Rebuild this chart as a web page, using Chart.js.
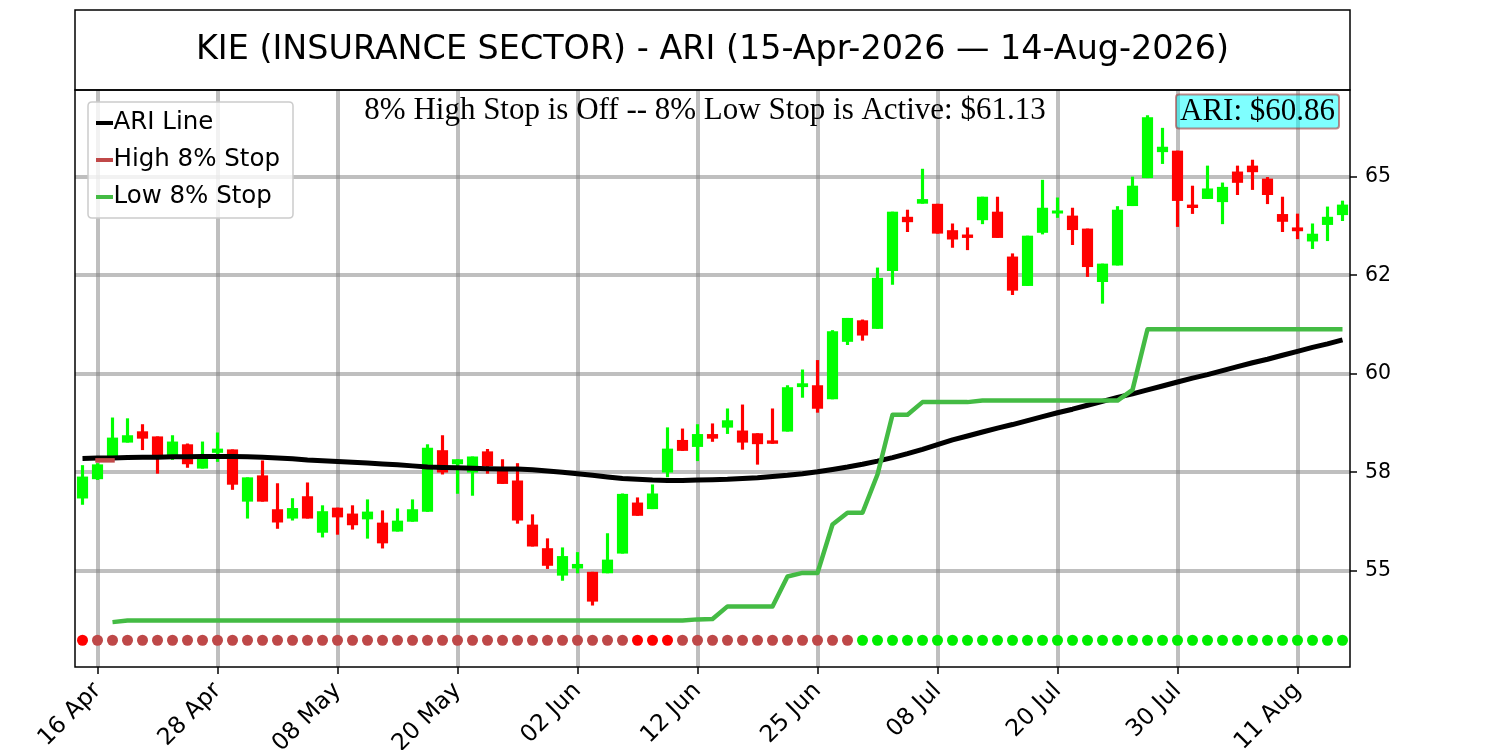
<!DOCTYPE html>
<html>
<head>
<meta charset="utf-8">
<title>KIE ARI</title>
<script src="https://cdn.jsdelivr.net/npm/chart.js@4.4.1/dist/chart.umd.min.js"></script>
<style>
  html, body { margin: 0; padding: 0; background: #fff; }
  #wrap { width: 1500px; height: 750px; position: relative; }
</style>
</head>
<body>
<div id="wrap"><canvas id="ariChart"></canvas></div>
<script>
// Trading days
const dates = [
    '15 Apr','16 Apr','17 Apr','20 Apr','21 Apr','22 Apr','23 Apr','24 Apr','27 Apr','28 Apr','29 Apr','30 Apr',
    '01 May','04 May','05 May','06 May','07 May','08 May','11 May','12 May','13 May','14 May','15 May','18 May',
    '19 May','20 May','21 May','22 May','26 May','27 May','28 May','29 May',
    '01 Jun','02 Jun','03 Jun','04 Jun','05 Jun','08 Jun','09 Jun','10 Jun','11 Jun','12 Jun','15 Jun','16 Jun',
    '17 Jun','18 Jun','22 Jun','23 Jun','24 Jun','25 Jun','26 Jun','29 Jun','30 Jun',
    '01 Jul','02 Jul','06 Jul','07 Jul','08 Jul','09 Jul','10 Jul','13 Jul','14 Jul','15 Jul','16 Jul','17 Jul',
    '20 Jul','21 Jul','22 Jul','23 Jul','24 Jul','27 Jul','28 Jul','29 Jul','30 Jul','31 Jul',
    '03 Aug','04 Aug','05 Aug','06 Aug','07 Aug','10 Aug','11 Aug','12 Aug','13 Aug','14 Aug'
];

// OHLC
const opens = [
    56.84, 57.33, 57.90, 58.26, 58.53, 58.40, 57.94, 58.20, 57.60, 58.00,
    58.07, 56.76, 57.41, 56.55, 56.33, 56.88, 55.97, 56.59, 56.44, 56.31,
    56.21, 56.00, 56.25, 56.50, 58.05, 57.71, 57.50, 58.02, 57.56, 57.28,
    56.16, 55.56, 54.88, 55.06, 54.96, 54.94, 55.44, 56.72, 56.57, 57.50,
    58.31, 58.15, 58.46, 58.64, 58.55, 58.48, 58.30, 58.54, 59.67, 59.70,
    59.36, 60.82, 61.35, 61.15, 62.62, 63.98, 64.33, 64.31, 63.64, 63.53,
    63.91, 64.11, 62.97, 62.24, 63.59, 64.08, 64.01, 63.68, 62.34, 62.76,
    64.27, 64.98, 65.64, 65.66, 64.29, 64.45, 64.37, 65.13, 65.28, 64.95,
    64.05, 63.71, 63.37, 63.79, 64.04
];
const highs = [
    57.67, 57.72, 58.88, 58.86, 58.71, 58.40, 58.43, 58.22, 58.27, 58.50,
    58.07, 57.36, 57.79, 57.21, 56.83, 57.23, 56.65, 56.59, 56.65, 56.80,
    56.52, 56.57, 56.80, 58.20, 58.43, 57.82, 57.89, 58.08, 57.82, 57.72,
    56.42, 55.81, 55.58, 55.46, 54.96, 55.94, 56.95, 56.85, 57.18, 58.63,
    58.60, 58.71, 58.73, 59.11, 59.21, 58.48, 59.11, 59.70, 60.10, 60.34,
    61.10, 61.41, 61.37, 62.69, 64.11, 64.16, 65.20, 64.31, 63.81, 63.71,
    64.49, 64.49, 63.05, 63.50, 64.92, 64.47, 64.21, 63.68, 62.79, 64.25,
    65.00, 66.56, 66.24, 65.66, 64.77, 65.28, 64.85, 65.28, 65.43, 64.99,
    64.49, 64.06, 63.81, 64.24, 64.39
];
const lows = [
    56.68, 57.31, 57.90, 58.26, 58.07, 57.47, 57.82, 57.62, 57.60, 57.77,
    57.06, 56.33, 56.76, 56.07, 56.28, 56.33, 55.85, 55.92, 56.05, 55.82,
    55.57, 56.00, 56.25, 56.50, 57.45, 56.96, 56.91, 57.47, 57.21, 56.20,
    55.62, 55.05, 54.75, 54.94, 54.12, 54.94, 55.44, 56.40, 56.57, 57.38,
    58.05, 57.79, 58.28, 58.48, 58.08, 57.70, 58.23, 58.54, 59.40, 59.02,
    59.36, 60.74, 60.85, 61.15, 62.27, 63.61, 64.33, 63.57, 63.21, 63.15,
    63.81, 63.46, 62.01, 62.24, 63.55, 63.97, 63.28, 62.47, 61.79, 62.76,
    64.27, 64.98, 65.34, 63.74, 64.07, 64.45, 63.81, 64.55, 64.68, 64.32,
    63.61, 63.43, 63.18, 63.38, 63.89
];
const closes = [
    57.38, 57.69, 58.37, 58.43, 58.36, 57.94, 58.27, 57.71, 57.89, 58.09,
    57.19, 57.36, 56.76, 56.23, 56.58, 56.33, 56.50, 56.36, 56.16, 56.49,
    55.70, 56.26, 56.55, 58.11, 57.50, 57.82, 57.89, 57.66, 57.21, 56.28,
    55.62, 55.13, 55.36, 55.16, 54.22, 55.27, 56.94, 56.40, 56.95, 58.09,
    58.05, 58.46, 58.36, 58.81, 58.26, 58.22, 58.23, 59.65, 59.75, 59.12,
    61.07, 61.41, 60.98, 62.43, 64.11, 63.86, 64.43, 63.57, 63.42, 63.46,
    64.49, 63.46, 62.12, 63.50, 64.21, 64.14, 63.66, 62.72, 62.79, 64.16,
    64.77, 66.51, 65.76, 64.40, 64.22, 64.70, 64.74, 64.86, 65.13, 64.55,
    63.87, 63.63, 63.55, 63.98, 64.29
];

// ARI line
const ariLine = [
    57.85, 57.86, 57.86, 57.87, 57.88, 57.88, 57.89, 57.89, 57.90, 57.90,
    57.90, 57.89, 57.88, 57.86, 57.84, 57.81, 57.79, 57.77, 57.75, 57.73,
    57.71, 57.69, 57.66, 57.63, 57.62, 57.61, 57.60, 57.59, 57.58, 57.58,
    57.56, 57.53, 57.50, 57.46, 57.42, 57.38, 57.34, 57.32, 57.30, 57.29,
    57.29, 57.30, 57.31, 57.32, 57.34, 57.36, 57.39, 57.42, 57.46, 57.51,
    57.57, 57.63, 57.70, 57.78, 57.87, 57.97, 58.08, 58.20, 58.32, 58.42,
    58.52, 58.62, 58.71, 58.81, 58.91, 59.01, 59.10, 59.20, 59.30, 59.40,
    59.49, 59.59, 59.69, 59.79, 59.89, 59.98, 60.08, 60.18, 60.28, 60.37,
    60.47, 60.57, 60.67, 60.76, 60.86
];

// 8% stops
const lowStop = [
    null, null, 53.69, 53.73, 53.73, 53.73, 53.73, 53.73, 53.73, 53.73,
    53.73, 53.73, 53.73, 53.73, 53.73, 53.73, 53.73, 53.73, 53.73, 53.73,
    53.73, 53.73, 53.73, 53.73, 53.73, 53.73, 53.73, 53.73, 53.73, 53.73,
    53.73, 53.73, 53.73, 53.73, 53.73, 53.73, 53.73, 53.73, 53.73, 53.73,
    53.73, 53.76, 53.77, 54.09, 54.09, 54.09, 54.09, 54.85, 54.94, 54.94,
    56.17, 56.47, 56.47, 57.44, 58.96, 58.96, 59.28, 59.28, 59.28, 59.28,
    59.32, 59.32, 59.32, 59.32, 59.32, 59.32, 59.32, 59.32, 59.32, 59.32,
    59.59, 61.13, 61.13, 61.13, 61.13, 61.13, 61.13, 61.13, 61.13, 61.13,
    61.13, 61.13, 61.13, 61.13, 61.13
];
const highStopIdx = [1, 2];
const highStopVals = [57.80, 57.80];

// Signal row: 2 = stop hit, 1 = high stop mode, 0 = low stop mode
const markerState = [
    2, 1, 1, 1, 1, 1, 1, 1, 1, 1,
    1, 1, 1, 1, 1, 1, 1, 1, 1, 1,
    1, 1, 1, 1, 1, 1, 1, 1, 1, 1,
    1, 1, 1, 1, 1, 1, 1, 2, 2, 2,
    1, 1, 1, 1, 1, 1, 1, 1, 1, 1,
    1, 1, 0, 0, 0, 0, 0, 0, 0, 0,
    0, 0, 0, 0, 0, 0, 0, 0, 0, 0,
    0, 0, 0, 0, 0, 0, 0, 0, 0, 0,
    0, 0, 0, 0, 0
];
const markerLevel = 53.23;

// Axis ticks
const xTickIdx = [1, 9, 17, 25, 33, 41, 49, 57, 65, 73, 81];
const yTickValues = [55, 57.5, 60, 62.5, 65];
const yTickLabels = ['55', '58', '60', '62', '65'];

const chartTitle = 'KIE (INSURANCE SECTOR) - ARI (15-Apr-2026 \u2014 14-Aug-2026)';

// Colours
const UP = 'rgb(0,255,0)';
const DOWN = 'rgb(255,0,0)';
const HIGH_STOP = 'rgb(192,72,72)';
const LOW_STOP = 'rgb(68,187,68)';
const markerColors = ['rgb(0,238,0)', 'rgb(190,72,72)', 'rgb(255,0,0)'];

const candleColors = opens.map((o, i) => closes[i] >= o ? UP : DOWN);

const wickData = dates.map((d, i) => ({ x: i, y: [lows[i], highs[i]] }));
const bodyData = dates.map((d, i) => ({ x: i, y: [Math.min(opens[i], closes[i]), Math.max(opens[i], closes[i])] }));
const ariData = ariLine.map((v, i) => ({ x: i, y: v }));
const lowStopData = lowStop.map((v, i) => ({ x: i, y: v }));
const highStopData = highStopIdx.map((x, k) => ({ x: x, y: highStopVals[k] }));
const markerData = markerState.map((s, i) => ({ x: i, y: markerLevel }));

const legendItems = [
    { text: 'ARI Line', color: '#000' },
    { text: 'High 8% Stop', color: HIGH_STOP },
    { text: 'Low 8% Stop', color: LOW_STOP }
];

function roundRect(ctx, x, y, w, h, r) {
    ctx.beginPath();
    ctx.moveTo(x + r, y);
    ctx.lineTo(x + w - r, y);
    ctx.quadraticCurveTo(x + w, y, x + w, y + r);
    ctx.lineTo(x + w, y + h - r);
    ctx.quadraticCurveTo(x + w, y + h, x + w - r, y + h);
    ctx.lineTo(x + r, y + h);
    ctx.quadraticCurveTo(x, y + h, x, y + h - r);
    ctx.lineTo(x, y + r);
    ctx.quadraticCurveTo(x, y, x + r, y);
    ctx.closePath();
}

// Frame, title, legend and notes
const decorPlugin = {
    id: 'decor',
    beforeDraw(chart) {
        const ctx = chart.ctx;
        ctx.save();
        ctx.fillStyle = '#fff';
        ctx.fillRect(0, 0, chart.width, chart.height);
        ctx.restore();
    },
    afterDraw(chart) {
        const ctx = chart.ctx;
        const a = chart.chartArea;
        ctx.save();

        // title box
        ctx.strokeStyle = '#000';
        ctx.lineWidth = 1.5;
        ctx.strokeRect(a.left, 10, a.right - a.left, a.top - 10);
        ctx.fillStyle = '#000';
        ctx.font = '33.4px "DejaVu Sans"';
        ctx.textAlign = 'center';
        ctx.textBaseline = 'middle';
        ctx.fillText(chartTitle, (a.left + a.right) / 2, 50);

        // plot frame
        ctx.strokeRect(a.left, a.top, a.right - a.left, a.bottom - a.top);

        // stop note
        const lastStop = lowStop[lowStop.length - 1];
        ctx.font = '31px "Liberation Serif"';
        ctx.fillText('8% High Stop is Off -- 8% Low Stop is Active: $' + lastStop.toFixed(2), 705, 111);

        // ARI value box
        const ariText = 'ARI: $' + ariLine[ariLine.length - 1].toFixed(2);
        const tw = ctx.measureText(ariText).width;
        const bx = 1339 - tw - 8, by = 94.5, bw = tw + 8, bh = 34;
        roundRect(ctx, bx, by, bw, bh, 3);
        ctx.fillStyle = 'rgba(0,255,255,0.5)';
        ctx.fill();
        ctx.strokeStyle = 'rgba(165,42,42,0.55)';
        ctx.lineWidth = 2;
        ctx.stroke();
        ctx.fillStyle = '#000';
        ctx.fillText(ariText, bx + bw / 2, 111.5);

        // legend
        roundRect(ctx, 88, 102, 205, 116, 4);
        ctx.fillStyle = 'rgba(255,255,255,0.8)';
        ctx.fill();
        ctx.strokeStyle = '#cccccc';
        ctx.lineWidth = 1.5;
        ctx.stroke();
        ctx.font = '24.5px "DejaVu Sans"';
        ctx.textAlign = 'left';
        legendItems.forEach((item, k) => {
            const yy = 123 + k * 37;
            ctx.strokeStyle = item.color;
            ctx.lineWidth = 4;
            ctx.beginPath();
            ctx.moveTo(96, yy);
            ctx.lineTo(113, yy);
            ctx.stroke();
            ctx.fillStyle = '#000';
            ctx.fillText(item.text, 113.5, yy);
        });

        ctx.restore();
    }
};

Chart.defaults.font.family = '"DejaVu Sans"';
Chart.defaults.color = '#000';

const config = {
    type: 'bar',
    data: {
        datasets: [
            {
                type: 'line',
                label: 'Low 8% Stop',
                data: lowStopData,
                borderColor: LOW_STOP,
                borderWidth: 4.5,
                pointRadius: 0,
                tension: 0,
                spanGaps: false,
                borderJoinStyle: 'round',
                order: 0
            },
            {
                type: 'line',
                label: 'High 8% Stop',
                data: highStopData,
                borderColor: HIGH_STOP,
                borderWidth: 4.5,
                borderCapStyle: 'square',
                pointRadius: 0,
                tension: 0,
                order: 1
            },
            {
                type: 'line',
                label: 'ARI Line',
                data: ariData,
                borderColor: '#000',
                borderWidth: 5,
                pointRadius: 0,
                tension: 0,
                borderJoinStyle: 'round',
                order: 2
            },
            {
                label: 'Body',
                data: bodyData,
                backgroundColor: candleColors,
                borderWidth: 0,
                barThickness: 10.5,
                grouped: false,
                order: 3
            },
            {
                label: 'Wick',
                data: wickData,
                backgroundColor: candleColors,
                borderWidth: 0,
                barThickness: 2.5,
                grouped: false,
                order: 4
            },
            {
                type: 'line',
                label: 'Signal',
                data: markerData,
                showLine: false,
                pointRadius: 5.5,
                pointHoverRadius: 5.5,
                pointBorderWidth: 0,
                pointBackgroundColor: markerState.map(s => markerColors[s]),
                order: 5
            }
        ]
    },
    options: {
        responsive: true,
        maintainAspectRatio: false,
        animation: false,
        layout: {
            padding: { left: 75, top: 90, right: 0, bottom: 0 }
        },
        plugins: {
            legend: { display: false },
            tooltip: { enabled: false },
            title: { display: false }
        },
        scales: {
            x: {
                type: 'linear',
                min: -0.5,
                max: 84.5,
                offset: false,
                afterFit: (s) => { s.height = 83; },
                afterBuildTicks: (s) => { s.ticks = xTickIdx.map(v => ({ value: v })); },
                grid: {
                    offset: false,
                    color: 'rgba(128,128,128,0.5)',
                    lineWidth: 4,
                    tickColor: '#000',
                    tickWidth: 1.5,
                    tickLength: 7
                },
                border: { display: false },
                ticks: {
                    autoSkip: false,
                    minRotation: 45,
                    maxRotation: 45,
                    padding: 3,
                    font: { size: 23.5 },
                    callback: (v) => dates[v]
                }
            },
            y: {
                type: 'linear',
                position: 'right',
                min: 52.55,
                max: 67.21,
                afterFit: (s) => { s.width = 150; },
                afterBuildTicks: (s) => { s.ticks = yTickValues.map(v => ({ value: v })); },
                grid: {
                    color: 'rgba(128,128,128,0.5)',
                    lineWidth: 4,
                    tickColor: '#000',
                    tickWidth: 1.5,
                    tickLength: 7
                },
                border: { display: false },
                ticks: {
                    padding: 8,
                    font: { size: 20.5 },
                    callback: (v) => yTickLabels[yTickValues.indexOf(v)]
                }
            }
        }
    },
    plugins: [decorPlugin]
};

const ariChart = new Chart(document.getElementById('ariChart'), config);
</script>
</body>
</html>
